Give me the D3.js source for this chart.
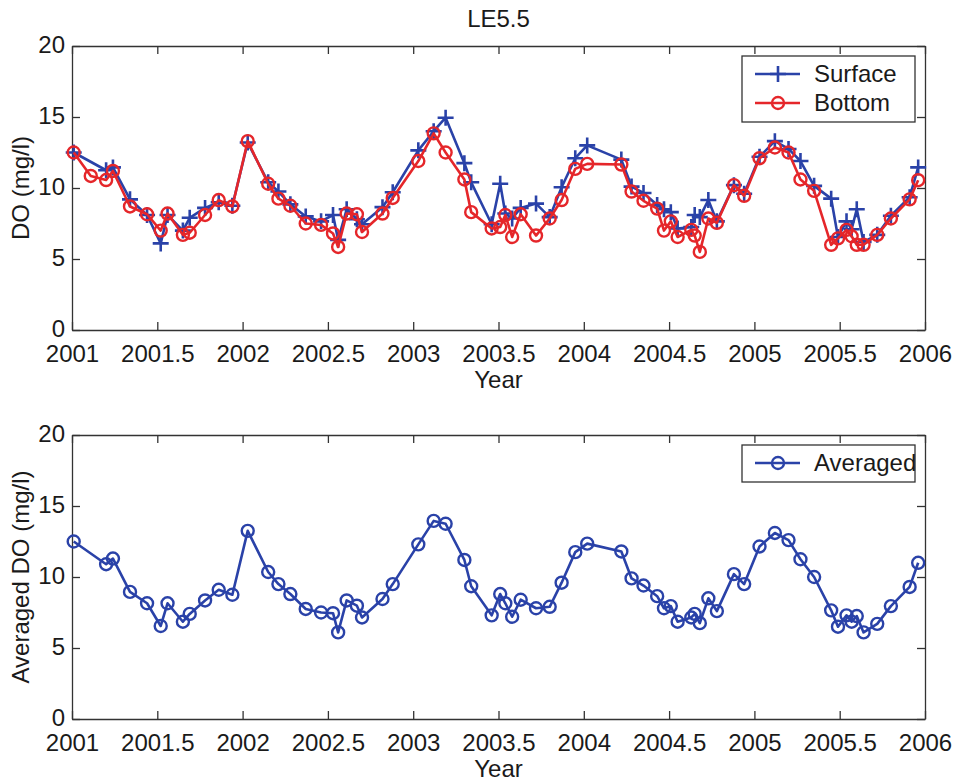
<!DOCTYPE html>
<html>
<head>
    <meta charset="utf-8" />
    <title>LE5.5 dissolved oxygen</title>
    <style>
        body { margin: 0; background: #fff; }
        svg { display: block; font-family: "Liberation Sans", Arial, sans-serif; }
        .axis path, .axis line { stroke: #333; }
        .axis text { fill: #1a1a1a; font-size: 24px; }
        .label { fill: #1a1a1a; font-size: 24px; }
    </style>
    <script src="https://cdn.jsdelivr.net/npm/d3@7"></script>
</head>
<body>
    <div id="chart"></div>

    <script type="text/javascript">
        // sampling dates (decimal years), shared by all series
        var years = [
            2001.01, 2001.11, 2001.20, 2001.24, 2001.34, 2001.44, 2001.52, 2001.56, 2001.65, 2001.69,
            2001.78, 2001.86, 2001.94, 2002.03, 2002.15, 2002.21, 2002.28, 2002.37, 2002.46, 2002.53,
            2002.56, 2002.61, 2002.67, 2002.70, 2002.82, 2002.88, 2003.03, 2003.12, 2003.19, 2003.30,
            2003.34, 2003.46, 2003.51, 2003.54, 2003.58, 2003.63, 2003.72, 2003.80, 2003.87, 2003.95,
            2004.02, 2004.22, 2004.28, 2004.35, 2004.43, 2004.47, 2004.51, 2004.55, 2004.63, 2004.65,
            2004.68, 2004.73, 2004.78, 2004.88, 2004.94, 2005.03, 2005.12, 2005.20, 2005.27, 2005.35,
            2005.45, 2005.49, 2005.54, 2005.57, 2005.60, 2005.64, 2005.72, 2005.80, 2005.91, 2005.96
        ];

        var surface = [
            12.5, null, 11.25, 11.45, 9.2, 8.1, 6.1, 8.1, 7.0, 7.9,
            8.6, 9.0, 8.75, 13.2, 10.4, 9.75, 8.85, 8.0, 7.65, 8.1,
            6.35, 8.5, 7.8, 7.45, 8.65, 9.7, 12.65, 14.0, 14.95, 11.75,
            10.4, 7.45, 10.3, 8.2, 7.85, 8.6, 8.9, 7.95, 10.05, 12.1,
            13.0, 12.0, 10.1, 9.65, 8.8, 8.5, 8.3, 7.15, 7.25, 8.1,
            7.95, 9.15, 7.65, 10.2, 9.6, 12.2, 13.3, 12.75, 11.9, 10.15,
            9.25, 6.55, 7.65, 7.1, 8.5, 6.2, 6.7, 8.05, 9.35, 11.45
        ];

        var bottom = [
            12.5, 10.85, 10.56, 11.2, 8.7, 8.15, 7.0, 8.2, 6.7, 6.85,
            8.1, 9.15, 8.7, 13.3, 10.3, 9.25, 8.75, 7.5, 7.4, 6.8,
            5.85, 8.2, 8.15, 6.9, 8.2, 9.3, 11.9, 13.85, 12.5, 10.6,
            8.3, 7.15, 7.25, 8.1, 6.55, 8.15, 6.65, 7.85, 9.15, 11.35,
            11.7, 11.65, 9.75, 9.1, 8.55, 7.0, 7.65, 6.55, 7.05, 6.65,
            5.5, 7.85, 7.55, 10.2, 9.45, 12.1, 12.85, 12.5, 10.6, 9.8,
            6.0, 6.45, 7.05, 6.6, 6.0, 6.0, 6.7, 7.85, 9.2, 10.55
        ];

        var averaged = [
            12.5, null, 10.9, 11.3, 8.95, 8.15, 6.55, 8.15, 6.85, 7.4,
            8.35, 9.1, 8.75, 13.25, 10.35, 9.5, 8.8, 7.75, 7.5, 7.45,
            6.1, 8.35, 7.98, 7.15, 8.45, 9.5, 12.3, 13.95, 13.75, 11.2,
            9.35, 7.3, 8.8, 8.15, 7.2, 8.4, 7.8, 7.9, 9.6, 11.75,
            12.35, 11.8, 9.9, 9.4, 8.65, 7.8, 7.95, 6.85, 7.15, 7.4,
            6.75, 8.5, 7.6, 10.2, 9.5, 12.15, 13.1, 12.6, 11.25, 10.0,
            7.65, 6.5, 7.3, 6.85, 7.25, 6.1, 6.7, 7.95, 9.3, 11.0
        ];

        var xTicks = [2001, 2001.5, 2002, 2002.5, 2003, 2003.5, 2004, 2004.5, 2005, 2005.5, 2006];
        var yTicks = [0, 5, 10, 15, 20];

        var width = 957,
            height = 783,
            left = 72,
            right = 925,
            blue = '#2a42a8',
            red = '#e5262a';

        var svg = d3.select('#chart')
            .append('svg')
            .attr('width', width)
            .attr('height', height);

        var xScale = d3.scaleLinear()
            .domain([2001, 2006])
            .range([left, right]);

        function pairs(values) {
            return years.map((y, i) => [y, values[i]]).filter(d => d[1] !== null);
        }

        function drawPanel(top, bottomY, yLabel, series, legendItems) {
            var yScale = d3.scaleLinear()
                .domain([0, 20])
                .range([bottomY, top]);

            var g = svg.append('g');

            // box with inward ticks on all four sides
            g.append('g').attr('class', 'axis')
                .attr('transform', 'translate(0,' + bottomY + ')')
                .call(d3.axisBottom(xScale).tickValues(xTicks).tickSizeInner(-8).tickSizeOuter(0).tickPadding(15)
                    .tickFormat(d3.format('')));
            g.append('g').attr('class', 'axis')
                .attr('transform', 'translate(0,' + top + ')')
                .call(d3.axisTop(xScale).tickValues(xTicks).tickSizeInner(-8).tickSizeOuter(0).tickFormat(''));
            var gY = g.append('g').attr('class', 'axis')
                .attr('transform', 'translate(' + left + ',0)')
                .call(d3.axisLeft(yScale).tickValues(yTicks).tickSizeInner(-8).tickSizeOuter(0).tickPadding(7));
            gY.selectAll('text').attr('dy', '0.28em');
            g.append('g').attr('class', 'axis')
                .attr('transform', 'translate(' + right + ',0)')
                .call(d3.axisRight(yScale).tickValues(yTicks).tickSizeInner(-8).tickSizeOuter(0).tickFormat(''));
            g.selectAll('.axis path').attr('stroke-width', 1.3);
            g.selectAll('.axis line').attr('stroke-width', 1.3);

            var line = d3.line()
                .x(d => xScale(d[0]))
                .y(d => yScale(d[1]));

            series.forEach(function(s) {
                var pts = pairs(s.values);
                g.append('path')
                    .datum(pts)
                    .attr('fill', 'none')
                    .attr('stroke', s.color)
                    .attr('stroke-width', 2.6)
                    .attr('stroke-linejoin', 'round')
                    .attr('d', line);
                drawMarkers(g, pts.map(d => [xScale(d[0]), yScale(d[1])]), s.marker, s.color);
            });

            g.append('text')
                .attr('class', 'label')
                .attr('text-anchor', 'middle')
                .attr('transform', 'translate(29,' + (top + bottomY) / 2 + ') rotate(-90)')
                .text(yLabel);

            g.append('text')
                .attr('class', 'label')
                .attr('text-anchor', 'middle')
                .attr('x', (left + right) / 2)
                .attr('y', bottomY + 58)
                .text('Year');

            // legend
            var lx = 742, ly = top + 10, lw = 173, rowH = 29;
            var lh = legendItems.length * rowH + 8;
            g.append('rect')
                .attr('x', lx).attr('y', ly)
                .attr('width', lw).attr('height', lh)
                .attr('fill', '#fff')
                .attr('stroke', '#333')
                .attr('stroke-width', 1.3);
            legendItems.forEach(function(s, i) {
                var cy = ly + 18 + i * rowH;
                g.append('line')
                    .attr('x1', lx + 13).attr('x2', lx + 58)
                    .attr('y1', cy).attr('y2', cy)
                    .attr('stroke', s.color)
                    .attr('stroke-width', 2.6);
                drawMarkers(g, [[lx + 36, cy]], s.marker, s.color);
                g.append('text')
                    .attr('class', 'label')
                    .attr('x', lx + 72)
                    .attr('y', cy + 8)
                    .text(s.name);
            });
        }

        function drawMarkers(g, pts, marker, color) {
            if (marker === 'plus') {
                g.selectAll(null)
                    .data(pts)
                    .enter()
                    .append('path')
                    .attr('d', d => 'M' + (d[0] - 8) + ',' + d[1] + 'H' + (d[0] + 8) +
                        'M' + d[0] + ',' + (d[1] - 8) + 'V' + (d[1] + 8))
                    .attr('stroke', color)
                    .attr('stroke-width', 2.6);
            } else {
                g.selectAll(null)
                    .data(pts)
                    .enter()
                    .append('circle')
                    .attr('cx', d => d[0])
                    .attr('cy', d => d[1])
                    .attr('r', 6)
                    .attr('fill', 'none')
                    .attr('stroke', color)
                    .attr('stroke-width', 2.4);
            }
        }

        var topSeries = [
            { name: 'Surface', values: surface, color: blue, marker: 'plus' },
            { name: 'Bottom', values: bottom, color: red, marker: 'circle' }
        ];
        var avgSeries = [
            { name: 'Averaged', values: averaged, color: blue, marker: 'circle' }
        ];

        drawPanel(46, 330, 'DO (mg/l)', topSeries, topSeries);
        drawPanel(435, 719, 'Averaged DO (mg/l)', avgSeries, avgSeries);

        svg.append('text')
            .attr('class', 'label')
            .attr('text-anchor', 'middle')
            .attr('x', (left + right) / 2)
            .attr('y', 27)
            .text('LE5.5');
    </script>
</body>
</html>
